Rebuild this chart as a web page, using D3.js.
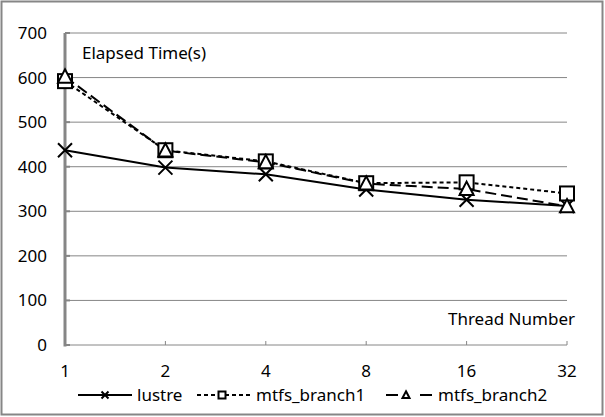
<!DOCTYPE html>
<html><head><meta charset="utf-8">
<script src="https://cdn.jsdelivr.net/npm/d3@7"></script>
<style>body{margin:0;background:#fff}svg{display:block}text{font-family:"Noto Sans",sans-serif;fill:#000}</style>
</head><body>
<svg id="c" width="605" height="417"></svg>
<script>
const categories = ["1","2","4","8","16","32"];
const lustre = [437, 398, 383, 349, 326, 312];
const branch1 = [592, 437, 412, 363, 365, 340];
const branch2 = [602, 436, 410, 362, 350, 311];
const yTicks = [0,100,200,300,400,500,600,700];
const seriesNames = ["lustre","mtfs_branch1","mtfs_branch2"];

const svg = d3.select("#c");
const x = d3.scalePoint().domain(categories).range([65,567]);
const y = d3.scaleLinear().domain([0,700]).range([345,33]);

svg.append("rect").attr("x",1.5).attr("y",1.5).attr("width",601).attr("height",413)
  .attr("fill","#fff").attr("stroke","#868686").attr("stroke-width",2);

// gridlines
svg.append("g").selectAll("line").data(yTicks.filter(d=>d>0)).join("line")
  .attr("x1",65).attr("x2",567).attr("y1",d=>y(d)).attr("y2",d=>y(d))
  .attr("stroke","#868686").attr("stroke-width",1);
// x axis
svg.append("line").attr("x1",65).attr("x2",567).attr("y1",y(0)).attr("y2",y(0)).attr("stroke","#868686");
svg.append("g").selectAll("line").data(categories.slice(1)).join("line")
  .attr("x1",d=>x(d)).attr("x2",d=>x(d)).attr("y1",y(0)-4).attr("y2",y(0)).attr("stroke","#868686");
// y ticks
svg.append("g").selectAll("line").data(yTicks).join("line")
  .attr("x1",65).attr("x2",70).attr("y1",d=>y(d)).attr("y2",d=>y(d)).attr("stroke","#868686").attr("stroke-width",2);
// y axis
svg.append("line").attr("x1",65).attr("x2",65).attr("y1",y(700)).attr("y2",y(0)+1.5).attr("stroke","#868686").attr("stroke-width",3);

svg.append("g").selectAll("text").data(yTicks).join("text")
  .attr("x",47).attr("y",d=>y(d)+6).attr("text-anchor","end").attr("font-size",17).text(d=>d);
svg.append("g").selectAll("text").data(categories).join("text")
  .attr("x",d=>x(d)).attr("y",377).attr("text-anchor","middle").attr("font-size",17).text(d=>d);

svg.append("text").attr("x",82).attr("y",59).attr("font-size",17).text("Elapsed Time(s)");
svg.append("text").attr("x",575).attr("y",325).attr("text-anchor","end").attr("font-size",17).text("Thread Number");

const series = [
  {name:seriesNames[0], values:lustre, dash:null, marker:"x"},
  {name:seriesNames[1], values:branch1, dash:"4,3", marker:"sq"},
  {name:seriesNames[2], values:branch2, dash:"11,5", marker:"tri"}
];
const line = d3.line().x((d,i)=>x(categories[i])).y(d=>y(d));

function marker(g, type, cx, cy, s){
  if(type==="x"){
    g.append("path").attr("d",`M${cx-s},${cy-s}L${cx+s},${cy+s}M${cx-s},${cy+s}L${cx+s},${cy-s}`)
      .attr("stroke","#000").attr("stroke-width",2).attr("fill","none");
  } else if(type==="sq"){
    g.append("rect").attr("x",cx-s).attr("y",cy-s).attr("width",2*s).attr("height",2*s)
      .attr("fill","#fff").attr("stroke","#000").attr("stroke-width",2);
  } else {
    g.append("path").attr("d",`M${cx},${cy-s*1.05}L${cx+s},${cy+s*0.85}L${cx-s},${cy+s*0.85}Z`)
      .attr("fill","#fff").attr("stroke","#000").attr("stroke-width",2);
  }
}

const order = [0,1,2];
order.forEach(k=>{
  const s = series[k];
  svg.append("path").attr("d",line(s.values)).attr("fill","none").attr("stroke","#000")
    .attr("stroke-width",2).attr("stroke-dasharray",s.dash);
});
order.forEach(k=>{
  const s = series[k];
  const g = svg.append("g");
  s.values.forEach((v,i)=>marker(g,s.marker,x(categories[i]),y(v),7));
});

// legend
const lg = [
  {x1:78,x2:132,mx:105,tx:137},
  {x1:197,x2:252,mx:222,tx:256},
  {x1:386,x2:432,mx:406,tx:438}
];
const ly = 395;
series.forEach((s,k)=>{
  const L = lg[k];
  const g = svg.append("g");
  if(k===2){
    g.append("line").attr("x1",L.x1).attr("x2",L.x1+12).attr("y1",ly).attr("y2",ly).attr("stroke","#000").attr("stroke-width",2);
    g.append("line").attr("x1",L.x2-12).attr("x2",L.x2).attr("y1",ly).attr("y2",ly).attr("stroke","#000").attr("stroke-width",2);
  } else {
    g.append("line").attr("x1",L.x1).attr("x2",L.x2).attr("y1",ly).attr("y2",ly).attr("stroke","#000")
      .attr("stroke-width",2).attr("stroke-dasharray",s.dash);
  }
  marker(g,s.marker,L.mx,ly,3.5);
  g.append("text").attr("x",L.tx).attr("y",ly+6).attr("font-size",17).text(s.name);
});
</script>
</body></html>
